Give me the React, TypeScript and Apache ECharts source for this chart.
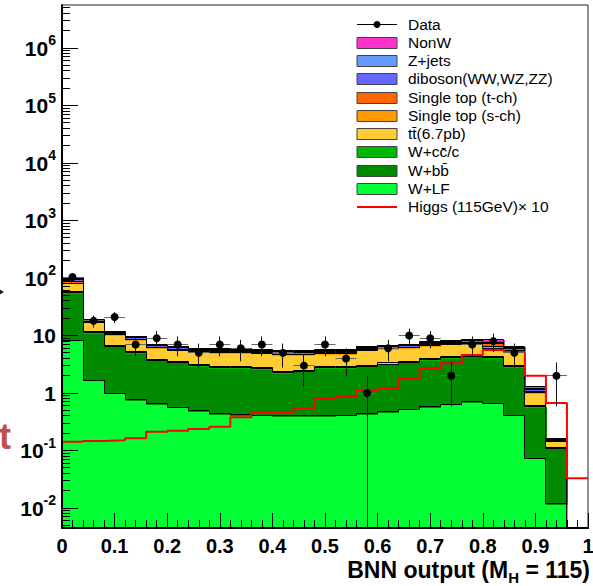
import React, { useEffect, useRef } from 'react';
import * as echarts from 'echarts';

// ---- binning (BNN output) ----
const BIN_EDGES = [0, 0.04, 0.08, 0.12, 0.16, 0.2, 0.24, 0.28, 0.32, 0.36, 0.4, 0.44, 0.48, 0.52, 0.56, 0.6, 0.64, 0.68, 0.72, 0.76, 0.8, 0.84, 0.88, 0.92, 0.96, 1.0];

// ---- stacked backgrounds (events per bin), bottom to top ----
const W_LF = [8.3, 1.68, 1.0, 0.76, 0.65, 0.57, 0.49, 0.44, 0.42, 0.41, 0.4, 0.4, 0.4, 0.41, 0.44, 0.47, 0.52, 0.58, 0.64, 0.7, 0.67, 0.41, 0.073, 0.012, 0];
const W_BB = [46.7, 9.4, 5.5, 4.3, 3.07, 2.86, 2.51, 2.3, 2.32, 2.26, 1.84, 1.98, 2.33, 2.32, 2.48, 2.73, 2.91, 3.22, 3.46, 3.68, 3.43, 2.45, 0.5, 0.098, 0];
const W_CC = [3, 0.5, 0.3, 0.25, 0.18, 0.17, 0.15, 0.13, 0.13, 0.13, 0.11, 0.12, 0.14, 0.14, 0.15, 0.16, 0.17, 0.2, 0.2, 0.22, 0.2, 0.14, 0.03, 0.005, 0];
const TTBAR = [23, 5.4, 3.5, 3.1, 2.2, 2.0, 1.95, 2.2, 2.2, 2.1, 2.25, 2.1, 2.0, 2.0, 2.5, 2.5, 2.5, 2.7, 2.8, 2.8, 1.7, 2.4, 0.4, 0.03, 0];
const STOP_S = [5, 0.4, 0.25, 0.25, 0.2, 0.18, 0.17, 0.17, 0.17, 0.16, 0.15, 0.15, 0.16, 0.16, 0.18, 0.18, 0.2, 0.2, 0.22, 0.24, 0.5, 0.2, 0.05, 0.003, 0];
const STOP_T = [8, 0.6, 0.4, 0.45, 0.3, 0.3, 0.28, 0.28, 0.28, 0.27, 0.27, 0.25, 0.27, 0.27, 0.3, 0.3, 0.3, 0.35, 0.38, 0.4, 0.9, 0.3, 0.08, 0.004, 0];
const DIBOSON = [3, 0.4, 0.25, 0.3, 0.2, 0.2, 0.19, 0.19, 0.19, 0.18, 0.19, 0.18, 0.18, 0.18, 0.2, 0.2, 0.2, 0.25, 0.27, 0.3, 0.3, 0.15, 0.05, 0.003, 0];
const ZJETS = [2, 0.2, 0.15, 0.15, 0.1, 0.1, 0.1, 0.1, 0.1, 0.09, 0.09, 0.08, 0.09, 0.09, 0.1, 0.1, 0.1, 0.1, 0.11, 0.12, 0.2, 0.1, 0.04, 0.002, 0];
const NONW = [3, 0.4, 0.25, 0.25, 0.2, 0.17, 0.16, 0.16, 0.16, 0.15, 0.14, 0.14, 0.15, 0.15, 0.17, 0.17, 0.2, 0.2, 0.22, 0.24, 0.5, 0.25, 0.08, 0.003, 0];

// ---- observed data (counts per bin) ----
const DATA_COUNTS = [104, 18, 21, 7, 9, 7, 5, 7, 6, 7, 5, 3, 7, 4, 1, 6, 10, 9, 2, 7, 8, 5, 0, 2, 0];

// ---- Higgs (115 GeV) x 10 ----
const HIGGS_X10 = [0.142, 0.147, 0.151, 0.163, 0.212, 0.22, 0.237, 0.26, 0.38, 0.47, 0.47, 0.54, 0.79, 0.86, 1.1, 1.2, 1.8, 2.69, 3.3, 4.6, 5.6, 5.2, 2.0, 0.67, 0.033];

const X_TICKS = [0, 0.1, 0.2, 0.3, 0.4, 0.5, 0.6, 0.7, 0.8, 0.9, 1];
const Y_MIN = 0.0045;
const Y_MAX = 5.6e6;

const LAYERS = [
  { name: 'W+LF', color: '#00ff33', values: W_LF },
  { name: 'W+bb\u0304', color: '#008a00', values: W_BB },
  { name: 'W+cc\u0304/c', color: '#00b800', values: W_CC },
  { name: 'tt\u0304(6.7pb)', color: '#ffcc33', values: TTBAR },
  { name: 'Single top (s-ch)', color: '#ff9900', values: STOP_S },
  { name: 'Single top (t-ch)', color: '#ff6600', values: STOP_T },
  { name: 'diboson(WW,WZ,ZZ)', color: '#6666ff', values: DIBOSON },
  { name: 'Z+jets', color: '#6699ff', values: ZJETS },
  { name: 'NonW', color: '#ff33cc', values: NONW },
];

const FONT = 'Liberation Sans, Arial, Helvetica, sans-serif';

const crisp = (v: number) => Math.round(v - 0.5) + 0.5;

export default function App() {
  const ref = useRef<HTMLDivElement>(null);

  useEffect(() => {
    const el = ref.current;
    if (!el) return;
    const chart = echarts.init(el, null, { renderer: 'svg' });

    const NB = BIN_EDGES.length - 1;
    const CUM: number[][] = [W_LF.map(() => 0)];
    LAYERS.forEach((l, k) => CUM.push(CUM[k].map((c, i) => c + l.values[i])));
    const clampY = (v: number) => Math.min(Y_MAX, Math.max(Y_MIN, v));
    const binData = BIN_EDGES.slice(0, NB).map((lo, i) => [lo, BIN_EDGES[i + 1], i]);

    // minor tick positions on the log axis (2..9 x 10^k)
    const minorY: number[][] = [];
    for (let e = -3; e <= 6; e++) {
      for (let m = 2; m <= 9; m++) {
        const v = m * Math.pow(10, e);
        if (v > Y_MIN && v < Y_MAX) minorY.push([0, v]);
      }
    }

    const lineStyle = { stroke: '#000', lineWidth: 1 };

    const fillSeries = {
      type: 'custom',
      z: 2,
      silent: true,
      dimensions: ['lo', 'hi', 'idx'],
      encode: { x: [0, 1] },
      data: binData,
      renderItem: (params: any, api: any) => {
        const i = api.value(2);
        const lo = BIN_EDGES[i];
        const hi = BIN_EDGES[i + 1];
        const children: any[] = [];
        for (let k = 0; k < LAYERS.length; k++) {
          if (LAYERS[k].values[i] <= 0) continue;
          const p0 = api.coord([lo, clampY(CUM[k + 1][i])]);
          const p1 = api.coord([hi, clampY(CUM[k][i])]);
          const x0 = Math.round(p0[0]);
          const x1 = Math.round(p1[0]) + (i < NB - 1 ? 1 : 0);
          const y0 = Math.round(p0[1]);
          const y1 = Math.round(p1[1]) + (k > 0 ? 1 : 0);
          if (y1 <= y0) continue;
          children.push({
            type: 'rect',
            shape: { x: x0, y: y0, width: x1 - x0, height: y1 - y0 },
            style: { fill: LAYERS[k].color },
          });
        }
        return { type: 'group', children };
      },
    };

    const outlineSeries = {
      type: 'custom',
      z: 3,
      silent: true,
      dimensions: ['lo', 'hi', 'idx'],
      encode: { x: [0, 1] },
      data: binData,
      renderItem: (params: any, api: any) => {
        const i = api.value(2);
        const children: any[] = [];
        for (let k = 1; k <= LAYERS.length; k++) {
          const a = api.coord([BIN_EDGES[i], clampY(CUM[k][i])]);
          const b = api.coord([BIN_EDGES[i + 1], clampY(CUM[k][i])]);
          const ya = crisp(a[1]);
          const xa = crisp(a[0]);
          children.push({ type: 'line', shape: { x1: xa, y1: ya, x2: crisp(b[0]), y2: ya }, style: lineStyle });
          if (i > 0) {
            const c = api.coord([BIN_EDGES[i], clampY(CUM[k][i - 1])]);
            children.push({ type: 'line', shape: { x1: xa, y1: crisp(c[1]), x2: xa, y2: ya }, style: lineStyle });
          }
        }
        return { type: 'group', children };
      },
    };

    const higgsSeries = {
      type: 'line',
      name: 'Higgs (115GeV)\u00d7 10',
      z: 4,
      silent: true,
      step: 'end',
      symbol: 'none',
      lineStyle: { color: '#ff0000', width: 2 },
      data: [...BIN_EDGES.slice(0, NB).map((x, i) => [x, HIGGS_X10[i]]), [BIN_EDGES[NB], HIGGS_X10[NB - 1]]],
    };

    const dataSeries = {
      type: 'custom',
      name: 'Data',
      z: 5,
      silent: true,
      dimensions: ['lo', 'hi', 'idx'],
      encode: { x: [0, 1] },
      data: binData,
      renderItem: (params: any, api: any) => {
        const i = api.value(2);
        const n = DATA_COUNTS[i];
        if (!(n > 0)) return null;
        const lo = BIN_EDGES[i];
        const hi = BIN_EDGES[i + 1];
        const xc = (lo + hi) / 2;
        const err = Math.sqrt(n);
        const c = api.coord([xc, n]);
        const t = api.coord([xc, clampY(n + err)]);
        const b = api.coord([xc, clampY(n - err)]);
        const l = api.coord([lo, n]);
        const r = api.coord([hi, n]);
        const cx = crisp(c[0]);
        const cy = crisp(c[1]);
        return {
          type: 'group',
          children: [
            { type: 'line', shape: { x1: l[0], y1: cy, x2: r[0], y2: cy }, style: { stroke: '#666', lineWidth: 1 } },
            { type: 'line', shape: { x1: cx, y1: t[1], x2: cx, y2: b[1] }, style: { stroke: '#111', lineWidth: 1 } },
            { type: 'circle', shape: { cx: c[0], cy: c[1], r: 4 }, style: { fill: '#000' } },
          ],
        };
      },
    };

    const minorTickSeries = {
      type: 'custom',
      z: 11,
      silent: true,
      data: minorY,
      renderItem: (params: any, api: any) => {
        const p = api.coord([0, api.value(1)]);
        const y = crisp(p[1]);
        return { type: 'line', shape: { x1: p[0], y1: y, x2: p[0] + 8, y2: y }, style: { stroke: '#000', lineWidth: 1 } };
      },
    };

    // legend (ROOT-style TLegend) drawn with graphic elements
    const legendEntries: any[] = [
      { label: 'Data', kind: 'data' },
      ...LAYERS.slice().reverse().map((l) => ({ label: l.name, kind: 'fill', color: l.color })),
      { label: 'Higgs (115GeV)\u00d7 10', kind: 'line', color: '#ff0000' },
    ];
    const LX = 357;
    const LY0 = 24;
    const LDY = 18.27;
    const legendChildren: any[] = [];
    legendEntries.forEach((e, j) => {
      const cy = LY0 + j * LDY;
      if (e.kind === 'fill') {
        legendChildren.push({ type: 'rect', shape: { x: LX, y: Math.round(cy - 5.5) + 0.5, width: 40, height: 11 }, style: { fill: e.color, stroke: '#444', lineWidth: 1 } });
      } else if (e.kind === 'data') {
        legendChildren.push({ type: 'line', shape: { x1: LX, y1: crisp(cy), x2: LX + 40, y2: crisp(cy) }, style: { stroke: '#000', lineWidth: 1 } });
        legendChildren.push({ type: 'circle', shape: { cx: LX + 20, cy: crisp(cy), r: 3.5 }, style: { fill: '#000' } });
      } else {
        legendChildren.push({ type: 'line', shape: { x1: LX, y1: Math.round(cy), x2: LX + 40, y2: Math.round(cy) }, style: { stroke: e.color, lineWidth: 2 } });
      }
      legendChildren.push({
        type: 'text',
        style: { text: e.label, x: LX + 51, y: cy, fontFamily: FONT, fontSize: 15.5, fill: '#000', verticalAlign: 'middle', align: 'left' },
      });
    });

    const option: any = {
      animation: false,
      backgroundColor: '#ffffff',
      grid: {
        left: 62,
        right: 5,
        top: 5,
        bottom: 58,
        show: true,
        borderColor: '#222',
        borderWidth: 1,
        backgroundColor: 'transparent',
        outerBoundsMode: 'none',
      },
      xAxis: {
        type: 'value',
        min: 0,
        max: 1,
        interval: 0.1,
        z: 10,
        axisLine: { show: true, lineStyle: { color: '#000', width: 2 } },
        axisTick: { show: true, inside: true, length: 15, lineStyle: { color: '#000', width: 1 } },
        minorTick: { show: true, splitNumber: 5, length: 8, lineStyle: { color: '#000', width: 1 } },
        splitLine: { show: false },
        axisLabel: {
          margin: 9,
          fontFamily: FONT,
          fontWeight: 'bold',
          fontSize: 20,
          lineHeight: 18,
          color: '#000',
          showMinLabel: true,
          showMaxLabel: true,
          formatter: (v: number) => {
            const t = X_TICKS.find((x) => Math.abs(x - v) < 1e-6);
            if (t === undefined) return '';
            return t === 0 ? '0' : t === 1 ? '1' : t.toFixed(1);
          },
        },
      },
      yAxis: {
        type: 'log',
        logBase: 10,
        min: Y_MIN,
        max: Y_MAX,
        z: 10,
        axisLine: { show: true, lineStyle: { color: '#000', width: 2 } },
        axisTick: { show: true, inside: true, length: 16, lineStyle: { color: '#000', width: 1 } },
        splitLine: { show: false },
        axisLabel: {
          margin: 6,
          showMinLabel: false,
          showMaxLabel: false,
          formatter: (v: number) => {
            const e = Math.log10(v);
            const r = Math.round(e);
            if (Math.abs(e - r) > 1e-6) return '';
            if (r === 0) return '{b|1}';
            if (r === 1) return '{b|10}';
            return `{b|10}{s|${r}}`;
          },
          rich: {
            b: { fontFamily: FONT, fontWeight: 'bold', fontSize: 21, lineHeight: 21, padding: [10, 0, 0, 0], verticalAlign: 'bottom', color: '#000' },
            s: { fontFamily: FONT, fontWeight: 'bold', fontSize: 14, lineHeight: 14, padding: [0, 0, 11.5, 0], verticalAlign: 'bottom', color: '#000' },
          },
        },
      },
      graphic: [
        { type: 'group', children: legendChildren, z: 20 },
        {
          type: 'text',
          z: 20,
          style: {
            text: '{a|BNN output (M}{h|H}{a| = 115)}',
            x: 590,
            y: 575,
            align: 'right',
            verticalAlign: 'middle',
            rich: {
              a: { fontFamily: FONT, fontWeight: 'bold', fontSize: 23, lineHeight: 20, padding: [0, 0, 4, 0], verticalAlign: 'bottom', fill: '#000' },
              h: { fontFamily: FONT, fontWeight: 'bold', fontSize: 15, lineHeight: 14, verticalAlign: 'bottom', fill: '#000' },
            },
          },
        },
        {
          type: 'text',
          z: 20,
          style: { text: 't', x: -1, y: 436, fontFamily: FONT, fontWeight: 'bold', fontSize: 36, fill: '#c0504d', verticalAlign: 'middle', align: 'left' },
        },
        { type: 'polygon', z: 20, shape: { points: [[0, 289.5], [4, 292], [0, 294.5]] }, style: { fill: '#222' } },
      ],
      series: [fillSeries, outlineSeries, higgsSeries, dataSeries, minorTickSeries],
    };

    chart.setOption(option);
    return () => chart.dispose();
  }, []);

  return <div ref={ref} style={{ position: 'fixed', left: 0, top: 0, width: 593, height: 586, background: '#fff' }} />;
}
